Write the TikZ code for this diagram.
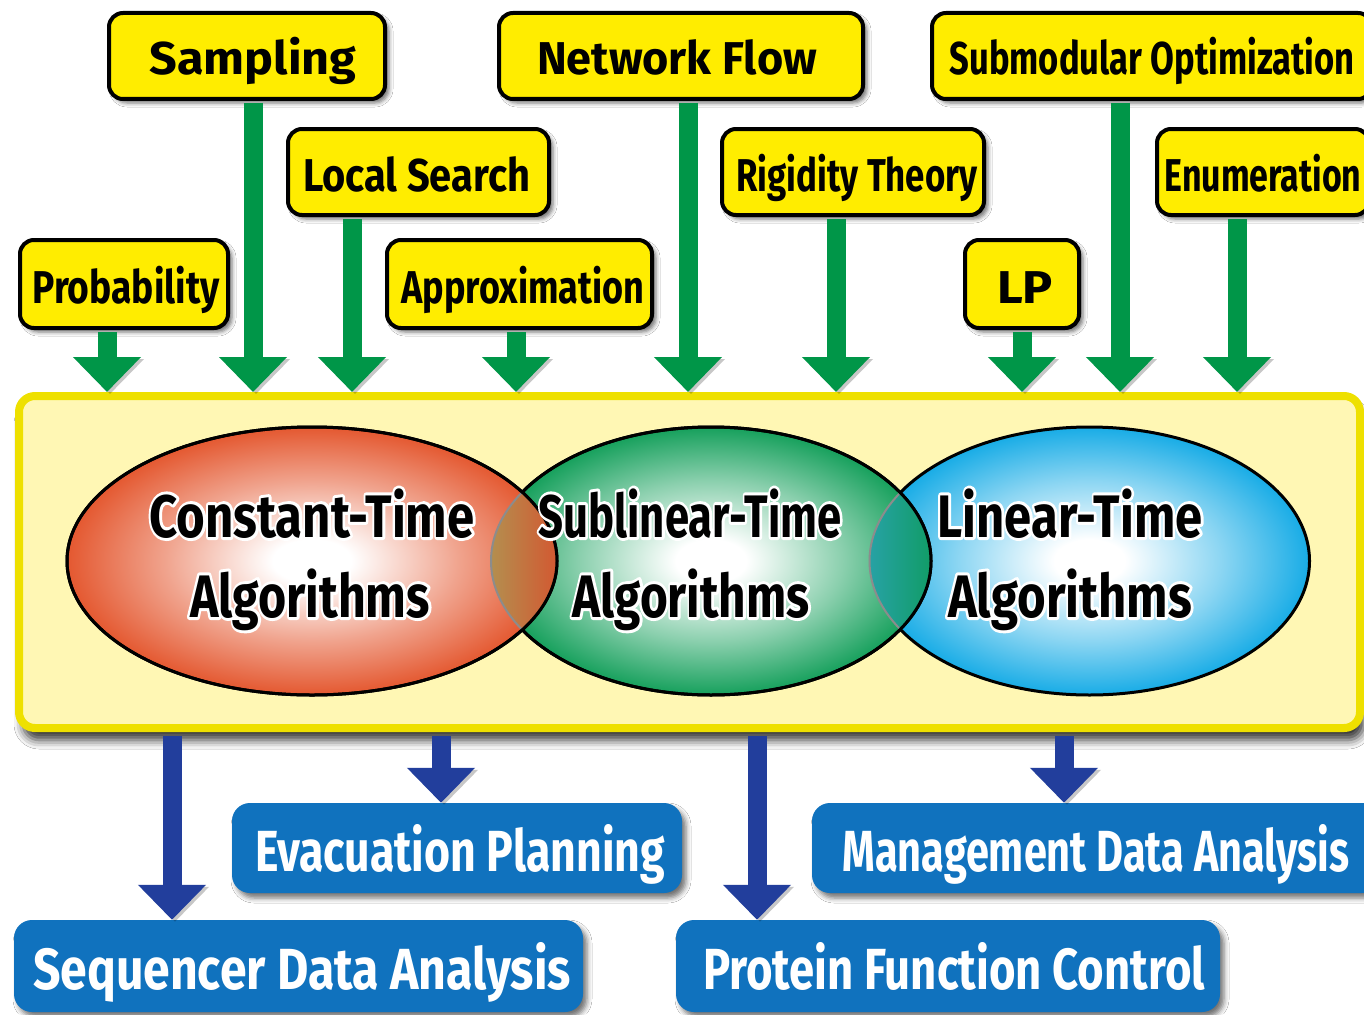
\documentclass[tikz,border=0pt]{standalone}
\usepackage{fontspec}
\setmainfont{Fira Sans}
\usetikzlibrary{arrows.meta,shadows.blur,calc}

\definecolor{yboxc}{RGB}{255,237,0}
\definecolor{mainfillc}{RGB}{255,247,180}
\definecolor{mainborderc}{RGB}{238,224,0}
\definecolor{garrowc}{RGB}{0,150,72}
\definecolor{barrowc}{RGB}{34,62,156}
\definecolor{bboxc}{RGB}{16,114,190}
\definecolor{redc}{RGB}{228,88,48}
\definecolor{greenc}{RGB}{22,160,92}
\definecolor{bluec}{RGB}{24,172,230}
\definecolor{oliveL}{RGB}{178,145,80}
\definecolor{redR}{RGB}{212,86,48}
\definecolor{tealL}{RGB}{40,162,168}
\definecolor{tealR}{RGB}{16,156,100}

\pgfdeclareradialshading{redsh}{\pgfpoint{0bp}{0bp}}{color(0bp)=(white); color(4bp)=(white); color(15bp)=(redc!55!white); color(25bp)=(redc); color(50bp)=(redc)}
\pgfdeclareradialshading{greensh}{\pgfpoint{0bp}{0bp}}{color(0bp)=(white); color(4bp)=(white); color(15bp)=(greenc!50!white); color(25bp)=(greenc); color(50bp)=(greenc)}
\pgfdeclareradialshading{bluesh}{\pgfpoint{0bp}{0bp}}{color(0bp)=(white); color(4bp)=(white); color(15bp)=(bluec!50!white); color(25bp)=(bluec); color(50bp)=(bluec)}

\newlength\fitlen
\newcommand\fitto[2]{\settowidth{\fitlen}{#2}\pgfmathsetmacro\fitsc{#1/\fitlen}\scalebox{\fitsc}[1]{#2}}
\newcommand\halofit[2]{\special{pdf:literal direct 1 Tr 6 w 1 j}\color{white}\fitto{#1}{#2}}

\begin{document}
\begin{tikzpicture}[x=1pt,y=-1pt,
  ybox/.style={draw=black, line width=4pt, fill=yboxc, rounded corners=14pt,
    font=\bfseries\fontsize{46pt}{50pt}\selectfont, inner sep=0pt,
    text height=42pt, text depth=4pt,
    blur shadow={shadow xshift=4pt, shadow yshift=-4pt, shadow blur radius=4pt, shadow opacity=55}},
  bboxs/.style={fill=bboxc, rounded corners=18pt, text=white,
    font=\bfseries\fontsize{58pt}{60pt}\selectfont, inner sep=0pt,
    text height=54pt, text depth=8pt,
    blur shadow={shadow xshift=4pt, shadow yshift=-5pt, shadow blur radius=5pt, shadow opacity=55}},
  mainbox/.style={draw=mainborderc, line width=8pt, fill=mainfillc, rounded corners=16pt,
    blur shadow={shadow xshift=4pt, shadow yshift=-12pt, shadow blur radius=9pt, shadow opacity=80}},
  etext/.style={font=\bfseries\fontsize{60pt}{70pt}\selectfont, anchor=base, inner sep=0pt},
  eline/.style={draw=black, line width=3pt},
  faint/.style={draw=black!45, line width=2pt},
  garr/.style={draw=garrowc, line width=19pt, -{Triangle[width=66pt,length=35pt]},
    preaction={draw=black, opacity=0.22, transform canvas={xshift=3pt, yshift=-2pt}}},
  barr/.style={draw=barrowc, line width=19pt, -{Triangle[width=66pt,length=35pt]},
    preaction={draw=black, opacity=0.22, transform canvas={xshift=3pt, yshift=-2pt}}}
]
\useasboundingbox (0,0) rectangle (1364,1014);
\clip (0,0) rectangle (1364,1014);
\fill[white] (0,0) rectangle (1364,1014);

% main container
\node[mainbox, minimum width=1341pt, minimum height=332pt] (main) at (689.5,562) {};

% ellipses
\coordinate (cr) at (312,561);
\coordinate (cg) at (711,561);
\coordinate (cb) at (1089.5,561);

\shade[shading=bluesh] (cb) ellipse [x radius=220, y radius=134];
\draw[eline] (cb) ellipse [x radius=220, y radius=134];
\shade[shading=greensh] (cg) ellipse [x radius=220, y radius=134];
\draw[eline] (cg) ellipse [x radius=220, y radius=134];
\begin{scope}
  \clip (cg) ellipse [x radius=220, y radius=134];
  \clip (cb) ellipse [x radius=220, y radius=134];
  \shade[left color=tealL, right color=tealR] (866,420) rectangle (934,700);
\end{scope}
\begin{scope}
  \clip (cg) ellipse [x radius=220, y radius=134];
  \draw[faint] (cb) ellipse [x radius=220, y radius=134];
\end{scope}
\draw[eline] (cg) ellipse [x radius=220, y radius=134];

\shade[shading=redsh] (cr) ellipse [x radius=245, y radius=134];
\draw[eline] (cr) ellipse [x radius=245, y radius=134];
\begin{scope}
  \clip (cr) ellipse [x radius=245, y radius=134];
  \clip (cg) ellipse [x radius=220, y radius=134];
  \shade[left color=oliveL, right color=redR] (488,420) rectangle (560,700);
\end{scope}
\begin{scope}
  \clip (cr) ellipse [x radius=245, y radius=134];
  \draw[faint] (cg) ellipse [x radius=220, y radius=134];
\end{scope}
\draw[eline] (cr) ellipse [x radius=245, y radius=134];

% ellipse texts: white halo underneath, black text on top
\node[etext] (h1a) at (312,537) {\halofit{325pt}{Constant-Time}};
\node[etext] (h1b) at (310,617) {\halofit{240pt}{Algorithms}};
\node[etext] (h2a) at (690,537) {\halofit{303pt}{Sublinear-Time}};
\node[etext] (h2b) at (691,617) {\halofit{237pt}{Algorithms}};
\node[etext] (h3a) at (1070,537) {\halofit{265pt}{Linear-Time}};
\node[etext] (h3b) at (1070,617) {\halofit{244pt}{Algorithms}};
\node[etext] (t1a) at (312,537) {\fitto{325pt}{Constant-Time}};
\node[etext] (t1b) at (310,617) {\fitto{240pt}{Algorithms}};
\node[etext] (t2a) at (690,537) {\fitto{303pt}{Sublinear-Time}};
\node[etext] (t2b) at (691,617) {\fitto{237pt}{Algorithms}};
\node[etext] (t3a) at (1070,537) {\fitto{265pt}{Linear-Time}};
\node[etext] (t3b) at (1070,617) {\fitto{244pt}{Algorithms}};

% yellow boxes
\node[ybox, minimum width=276pt, minimum height=86pt] (samp) at (247,56) {\hspace*{12pt}\fitto{207pt}{Sampling}};
\node[ybox, minimum width=364pt, minimum height=86pt] (net) at (681,56) {\fitto{280pt}{Network Flow}\hspace*{8pt}};
\node[ybox, minimum width=440pt, minimum height=86pt] (sub) at (1152,56) {\fitto{405pt}{Submodular Optimization}};
\node[ybox, minimum width=261pt, minimum height=86pt] (ls) at (418.5,172) {\fitto{227pt}{Local Search}\hspace*{4pt}};
\node[ybox, minimum width=262pt, minimum height=86pt] (rig) at (853,172) {\hspace*{8pt}\fitto{241pt}{Rigidity Theory}};
\node[ybox, minimum width=212pt, minimum height=86pt] (enu) at (1263,172) {\fitto{197pt}{Enumeration}};
\node[ybox, minimum width=208pt, minimum height=88pt] (prob) at (124,284) {\hspace*{4pt}\fitto{187pt}{Probability}};
\node[ybox, minimum width=265pt, minimum height=88pt] (appr) at (519.5,284) {\hspace*{7pt}\fitto{243pt}{Approximation}};
\node[ybox, minimum width=114pt, minimum height=88pt] (lp) at (1022,284) {\hspace*{6pt}\fitto{56pt}{LP}};

% blue boxes
\node[bboxs, minimum width=450pt, minimum height=90pt] (evac) at (457,848) {\hspace*{6pt}\fitto{410pt}{Evacuation Planning}};
\node[bboxs, minimum width=568pt, minimum height=90pt] (mgmt) at (1096,848) {\fitto{507pt}{Management Data Analysis}};
\node[bboxs, minimum width=569pt, minimum height=92pt] (seq) at (298.5,966) {\hspace*{7pt}\fitto{538pt}{Sequencer Data Analysis}};
\node[bboxs, minimum width=544pt, minimum height=92pt] (prot) at (948,966) {\hspace*{12pt}\fitto{502pt}{Protein Function Control}};

% arrow columns
\coordinate (g1) at (107,0);
\coordinate (g2) at (253,0);
\coordinate (g3) at (352,0);
\coordinate (g4) at (516,0);
\coordinate (g5) at (688,0);
\coordinate (g6) at (836,0);
\coordinate (g7) at (1022,0);
\coordinate (g8) at (1120,0);
\coordinate (g9) at (1237,0);
\coordinate (b1) at (172,0);
\coordinate (b2) at (441,0);
\coordinate (b3) at (757,0);
\coordinate (b4) at (1064,0);

% green arrows
\draw[garr] ($(prob.south -| g1)+(0,2)$) -- (main.north -| g1);
\draw[garr] ($(samp.south -| g2)+(0,2)$) -- (main.north -| g2);
\draw[garr] ($(ls.south -| g3)+(0,2)$) -- (main.north -| g3);
\draw[garr] ($(appr.south -| g4)+(0,2)$) -- (main.north -| g4);
\draw[garr] ($(net.south -| g5)+(0,2)$) -- (main.north -| g5);
\draw[garr] ($(rig.south -| g6)+(0,2)$) -- (main.north -| g6);
\draw[garr] ($(lp.south -| g7)+(0,2)$) -- (main.north -| g7);
\draw[garr] ($(sub.south -| g8)+(0,2)$) -- (main.north -| g8);
\draw[garr] ($(enu.south -| g9)+(0,2)$) -- (main.north -| g9);

% blue arrows
\draw[barr] ($(main.south -| b1)+(0,4)$) -- (seq.north -| b1);
\draw[barr] ($(main.south -| b2)+(0,4)$) -- (evac.north -| b2);
\draw[barr] ($(main.south -| b3)+(0,4)$) -- (prot.north -| b3);
\draw[barr] ($(main.south -| b4)+(0,4)$) -- (mgmt.north -| b4);
\end{tikzpicture}
\end{document}
